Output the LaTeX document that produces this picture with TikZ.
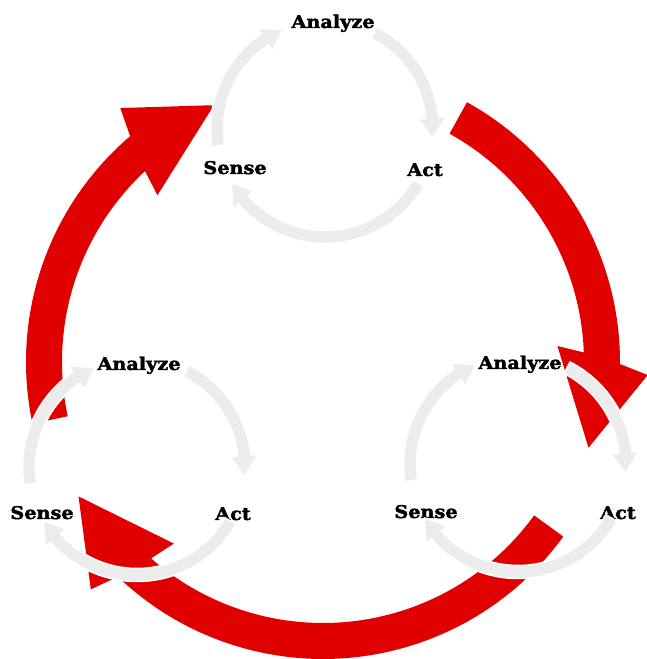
\documentclass[tikz,border=0pt]{standalone}
\usepackage{fontspec}
\setmainfont{DejaVu Serif}
\newfontfamily\myLblFont{DejaVu Serif}[BoldFeatures={FakeBold=2.2,FakeStretch=1.1}]
\definecolor{arrowred}{RGB}{224,0,0}
\definecolor{ringgray}{RGB}{236,236,236}
\tikzset{
  redarrow/.style={fill=arrowred, draw=none},
  grayarrow/.style={fill=ringgray, draw=white, line width=1.5pt, line join=miter},
  lbl/.style={font=\myLblFont\bfseries\fontsize{17.5}{17.5}\selectfont, anchor=base, inner sep=0pt},
}
% red circular arrow: #1 tail angle, #2 outer head-corner angle (clockwise travel)
\newcommand\myRedArrow[2]{%
  \pgfmathsetmacro\myT{#1}\pgfmathsetmacro\myO{#2}%
  \pgfmathsetmacro\myIE{#2+4.4}\pgfmathsetmacro\myIC{#2+6.2}%
  \pgfmathsetmacro\myTP{#2-15.6}\pgfmathsetmacro\myOE{#2+1.9}%
  \fill[redarrow] (\myT:261) arc[start angle=\myT, end angle=\myIE, radius=261]
    -- (\myIC:235) -- (\myTP:279) -- (\myO:325) -- (\myOE:297)
    arc[start angle=\myOE, end angle=\myT, radius=297] -- cycle;}
% gray small circular arrow: #1 tail angle, #2 tip angle
\newcommand\myGrayArrow[2]{%
  \pgfmathsetmacro\myGT{#1}\pgfmathsetmacro\myGP{#2}\pgfmathsetmacro\myGB{#2+11}%
  \filldraw[grayarrow] (\myGT:101.5) arc[start angle=\myGT, end angle=\myGB, radius=101.5]
    -- (\myGB:94) -- (\myGP:108) -- (\myGB:122) -- (\myGB:114.5)
    arc[start angle=\myGB, end angle=\myGT, radius=114.5] -- cycle;}
\newcommand\myCycle{\myGrayArrow{189}{113}\myGrayArrow{63}{-5}\myGrayArrow{-30}{-150}}
\begin{document}
\begin{tikzpicture}[x=1pt,y=1pt]
\useasboundingbox (0,0) rectangle (646,659);
\coordinate (C) at (323,297);
\coordinate (T) at (325,530);
\coordinate (L) at (137,192);
\coordinate (R) at (518,195);
% labels
\node[lbl] (tA) at (333,631) {Analyze};
\node[lbl] (tS) at (235,485) {Sense};
\node[lbl] (tC) at (425,483) {Act};
\node[lbl] (lA) at (139,289) {Analyze};
\node[lbl] (lS) at (42,140) {Sense};
\node[lbl] (lC) at (233,139) {Act};
\node[lbl] (rA) at (520,290) {Analyze};
\node[lbl] (rS) at (426,141) {Sense};
\node[lbl] (rC) at (618,140) {Act};
% big red cycle
\begin{scope}[shift={(C)}]
  \myRedArrow{192}{128.6}
  \myRedArrow{61}{-2.3}
  \myRedArrow{-36}{-135.6}
\end{scope}
% small gray cycles
\begin{scope}[shift={(T)}]\myCycle\end{scope}
\begin{scope}[shift={(L)}]\myCycle\end{scope}
\begin{scope}[shift={(R)}]\myCycle\end{scope}
\end{tikzpicture}
\end{document}
